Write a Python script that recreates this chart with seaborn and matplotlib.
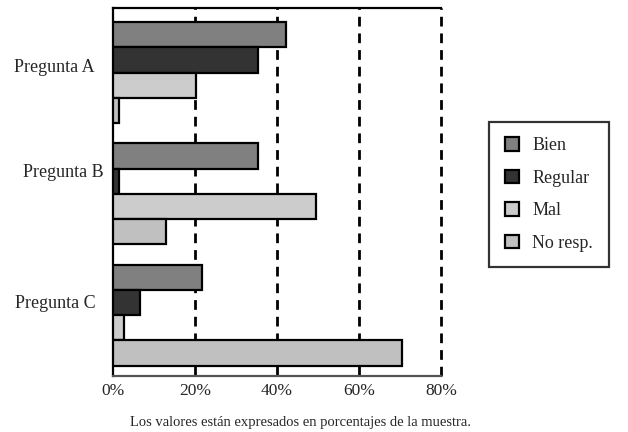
import pandas as pd
import matplotlib.pyplot as plt
import seaborn as sns

# preguntas y respuestas
preguntas = ['Pregunta A', 'Pregunta B', 'Pregunta C']
respuestas = ['Bien', 'Regular', 'Mal', 'No resp.']
bien = [42.3, 35.4, 21.6]
regular = [35.3, 1.4, 6.6]
mal = [20.3, 49.6, 2.6]
no_resp = [1.4, 12.9, 70.4]
colores = ['#808080', '#333333', '#cccccc', '#c0c0c0']
xticks = [0, 20, 40, 60, 80]

#build long-form table for seaborn
data = pd.DataFrame({
    'pregunta': preguntas * 4,
    'respuesta': [r for r in respuestas for _ in preguntas],
    'valor': bien + regular + mal + no_resp,
})

sns.set_style('white')
plt.rcParams['font.family'] = ['Liberation Serif', 'DejaVu Serif']

fig = plt.figure(figsize=(6.28, 4.32), dpi=100)
ax = fig.add_axes([0.180, 0.130, 0.522, 0.851])

sns.barplot(data=data, x='valor', y='pregunta', hue='respuesta',
            order=preguntas, hue_order=respuestas, palette=colores,
            orient='h', width=0.83, gap=0, errorbar=None,
            edgecolor='black', linewidth=1.6, ax=ax, zorder=3)

ax.set_xlim(0, 80)
ax.set_ylim(2.5, -0.53)
ax.set_xticks(xticks)
ax.set_xticklabels(['{}%'.format(t) for t in xticks], fontsize=12.5)
ax.set_xlabel('')
ax.set_ylabel('')

#dashed gridlines
for t in xticks[1:]:
    ax.axvline(t, color='black', linestyle=(0, (3.5, 2.5)), linewidth=2,
               zorder=1, clip_on=False)

#y labels (slightly irregular positions like the original)
ax.set_yticks([])
ytr = ax.get_yaxis_transform()
ax.text(-0.055, -0.04, preguntas[0], transform=ytr, ha='right', va='center', fontsize=13)
ax.text(-0.03, 0.82, preguntas[1], transform=ytr, ha='right', va='center', fontsize=13)
ax.text(-0.052, 1.9, preguntas[2], transform=ytr, ha='right', va='center', fontsize=13)

ax.tick_params(axis='x', length=0, pad=5)

#spines
for s in ['left', 'top']:
    ax.spines[s].set_color('black')
    ax.spines[s].set_linewidth(1.6)
ax.spines['bottom'].set_color('#555555')
ax.spines['bottom'].set_linewidth(1.6)
ax.spines['right'].set_visible(False)

#legend
handles, labels = ax.get_legend_handles_labels()
ax.get_legend().remove()
leg = fig.legend(handles, labels, loc='center', bbox_to_anchor=(0.874, 0.55),
                 frameon=True, fancybox=False, shadow=False, fontsize=13,
                 handlelength=0.8, handleheight=0.8, labelspacing=0.85,
                 borderpad=0.85, handletextpad=0.75, borderaxespad=0)
leg.get_frame().set_edgecolor('black')
leg.get_frame().set_linewidth(1.6)
for h in leg.legend_handles:
    h.set_edgecolor('black')
    h.set_linewidth(1.6)

fig.text(0.478, 0.023, 'Los valores están expresados en porcentajes de la muestra.',
         ha='center', va='center', fontsize=10.5)

plt.savefig('out.png', dpi=100)
